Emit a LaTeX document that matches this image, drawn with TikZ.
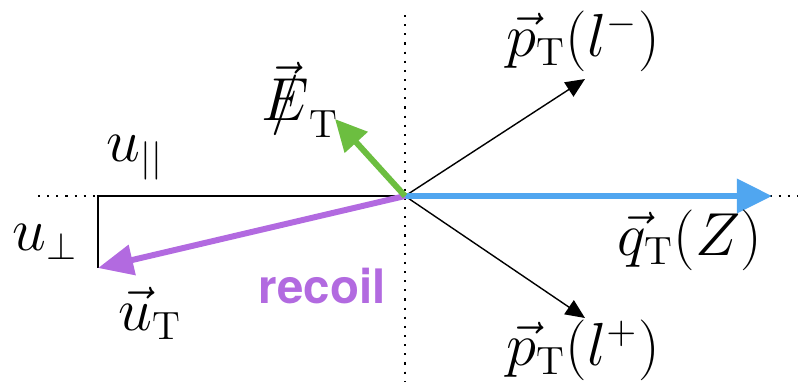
\documentclass[tikz,border=0pt]{standalone}
\usepackage{amsmath,amssymb}
\usepackage{fontspec}
\newfontfamily\recoilfont{TeX Gyre Heros}
\usepackage{xcolor}
\definecolor{qblue}{RGB}{80,166,240}
\definecolor{metgreen}{RGB}{108,190,64}
\definecolor{recpurple}{RGB}{178,106,224}
\usepackage{tikz}
\usetikzlibrary{arrows.meta,positioning}
\newcommand{\metE}{\ooalign{$E$\cr\hidewidth$/$\hidewidth\cr}}

\begin{document}
\begin{tikzpicture}[x=0.01cm,y=-0.01cm,
    lbl/.style={font=\fontsize{16}{19}\selectfont},
    thinvec/.style={-{Triangle[length=5.5pt,width=4.8pt]},line width=0.4pt},
    fatvec/.style={line width=1.7pt}]
  \useasboundingbox (0,0) rectangle (798,381);

  % Axes
  \coordinate (O) at (405,196);
  \draw[dotted,line width=0.6pt] (38,196) -- (798,196);
  \draw[dotted,line width=0.6pt] (405,15) -- (405,381);

  % Recoil components
  \coordinate (Ut) at (98,268);
  \coordinate (Ucorner) at (98,196);
  \draw[line width=0.7pt] (O) -- (Ucorner) -- (Ut);

  % Leptons
  \coordinate (Lm) at (585,79);
  \coordinate (Lp) at (585,318);
  \draw[thinvec] (O) -- (Lm);
  \draw[thinvec] (O) -- (Lp);

  % Vectors
  \coordinate (Q) at (772,196);
  \coordinate (Met) at (335,119);
  \draw[fatvec,qblue,-{Triangle[length=10pt,width=9.5pt]}] (O) -- (Q);
  \draw[fatvec,recpurple,-{Triangle[length=10pt,width=8.5pt]}] (O) -- (Ut);
  \draw[fatvec,metgreen,-{Triangle[length=9pt,width=8.5pt]}] (O) -- (Met);

  % Labels
  \node[lbl] (lmlabel) at (583,41) {$\vec{p}_{\mathrm{T}}(l^{-})$};
  \node[lbl] (lplabel) at (583,350) {$\vec{p}_{\mathrm{T}}(l^{+})$};
  \node[lbl] (qlabel) at (690,240) {$\vec{q}_{\mathrm{T}}(Z)$};
  \node[lbl] (metlabel) at (300,100) {$\vec{\metE}_{\mathrm{T}}$};
  \node[lbl] (upar) at (135,158) {$u_{||}$};
  \node[lbl] (uperp) at (45,242) {$u_{\perp}$};
  \node[lbl] (utlabel) at (150,313) {$\vec{u}_{\mathrm{T}}$};
  \node[text=recpurple,font=\recoilfont\bfseries\fontsize{13.5}{16}\selectfont] (reclabel) at (322,286) {recoil};
\end{tikzpicture}
\end{document}
